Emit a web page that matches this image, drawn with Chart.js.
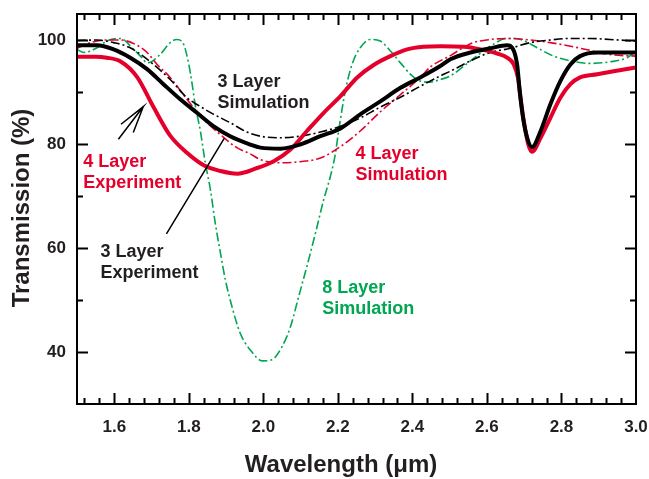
<!DOCTYPE html>
<html>
<head>
<meta charset="utf-8">
<script src="https://cdn.jsdelivr.net/npm/chart.js@4"></script>
<style>
html, body { margin: 0; padding: 0; background: #fff; }
</style>
</head>
<body>
<canvas id="myChart" width="649" height="479"></canvas>
<script>
// wavelength (um) and transmission (%)
var exp3Wl = [1.50, 1.554, 1.598, 1.643, 1.688, 1.732, 1.777, 1.822, 1.867, 1.911, 1.965, 1.992, 2.046, 2.099, 2.153, 2.207, 2.26, 2.314, 2.368, 2.421, 2.475, 2.502, 2.556, 2.609, 2.654, 2.668, 2.681, 2.688, 2.697, 2.708, 2.721, 2.744, 2.77, 2.797, 2.824, 2.85, 2.896, 3.0];
var exp3T  = [99.0, 99.0, 98.2, 96.6, 94.4, 91.5, 88.6, 86.0, 83.4, 81.5, 79.9, 79.3, 79.1, 79.9, 81.5, 83.0, 85.7, 88.2, 90.8, 92.8, 95.0, 96.3, 97.6, 98.4, 99.0, 98.5, 95.3, 90.2, 85.0, 81.2, 79.4, 82.5, 87.6, 92.1, 95.3, 96.9, 97.6, 97.6];

var exp4Wl = [1.50, 1.55, 1.58, 1.616, 1.661, 1.706, 1.75, 1.795, 1.84, 1.885, 1.93, 1.98, 2.028, 2.072, 2.117, 2.162, 2.207, 2.252, 2.296, 2.341, 2.386, 2.43, 2.475, 2.538, 2.583, 2.627, 2.654, 2.672, 2.683, 2.69, 2.699, 2.711, 2.721, 2.744, 2.77, 2.797, 2.824, 2.85, 2.896, 2.94, 3.0];
var exp4T  = [96.8, 96.8, 96.6, 95.9, 92.9, 87.0, 81.6, 78.3, 75.9, 74.8, 74.3, 75.3, 76.7, 78.9, 82.5, 86.0, 89.2, 92.8, 95.2, 96.9, 98.2, 98.7, 98.8, 98.7, 98.2, 97.4, 96.6, 95.3, 92.8, 88.9, 84.4, 79.9, 78.5, 81.2, 85.0, 88.9, 91.5, 92.8, 93.4, 94.0, 94.7];

var sim3Wl = [1.50, 1.554, 1.598, 1.64, 1.688, 1.75, 1.795, 1.822, 1.867, 1.911, 1.956, 1.992, 2.046, 2.099, 2.153, 2.207, 2.26, 2.314, 2.368, 2.421, 2.475, 2.502, 2.556, 2.609, 2.663, 2.716, 2.77, 2.824, 2.877, 2.93, 3.0];
var sim3T  = [99.9, 100.0, 99.5, 98.6, 96.3, 92.4, 88.9, 87.6, 85.7, 84.1, 82.3, 81.5, 81.2, 81.5, 82.3, 83.4, 85.0, 87.1, 89.0, 91.1, 93.1, 94.0, 96.0, 97.6, 98.4, 99.5, 100.0, 100.3, 100.3, 100.1, 99.8];

var sim4Wl = [1.50, 1.536, 1.58, 1.616, 1.661, 1.688, 1.715, 1.75, 1.795, 1.84, 1.885, 1.929, 1.965, 1.992, 2.046, 2.099, 2.153, 2.207, 2.26, 2.314, 2.368, 2.421, 2.448, 2.502, 2.556, 2.609, 2.663, 2.716, 2.77, 2.824, 2.877, 2.93, 3.0];
var sim4T  = [98.4, 99.5, 100.0, 100.0, 99.0, 97.6, 95.3, 92.8, 88.6, 84.7, 81.8, 79.3, 78.1, 77.0, 76.4, 76.6, 77.3, 79.5, 82.5, 86.2, 89.5, 92.8, 94.8, 97.0, 99.3, 100.1, 100.3, 100.0, 99.5, 98.8, 98.0, 97.2, 96.9];

var sim8Wl = [1.50, 1.518, 1.554, 1.58, 1.616, 1.652, 1.674, 1.688, 1.723, 1.75, 1.768, 1.786, 1.80, 1.809, 1.817, 1.831, 1.844, 1.858, 1.871, 1.885, 1.898, 1.916, 1.938, 1.965, 1.997, 2.023, 2.05, 2.073, 2.095, 2.117, 2.14, 2.162, 2.18, 2.193, 2.202, 2.22, 2.238, 2.26, 2.287, 2.314, 2.341, 2.368, 2.395, 2.421, 2.448, 2.475, 2.502, 2.556, 2.609, 2.654, 2.69, 2.735, 2.779, 2.824, 2.877, 2.93, 2.976, 3.0];
var sim8T  = [98.2, 97.6, 98.5, 99.8, 100.3, 98.2, 96.6, 95.6, 97.2, 99.5, 100.1, 99.2, 95.3, 91.5, 87.6, 82.5, 76.5, 71.2, 64.8, 59.0, 53.9, 48.7, 43.6, 40.4, 38.3, 38.5, 41.0, 44.9, 50.7, 56.5, 62.9, 69.3, 73.8, 78.0, 82.5, 90.2, 95.3, 98.5, 100.1, 99.8, 97.9, 95.6, 93.4, 92.1, 91.9, 92.4, 93.1, 96.0, 98.8, 100.3, 100.1, 98.5, 96.9, 96.0, 95.5, 95.8, 96.6, 97.9];

var xTicks = [1.6, 1.8, 2.0, 2.2, 2.4, 2.6, 2.8, 3.0];
var yTicks = [40, 60, 80, 100];
var yMinor = [50, 70, 90];

var dark = '#231f20';
var red = '#e4002b';
var green = '#00a651';
var fam = '"Liberation Sans", Arial, Helvetica, sans-serif';

function pts(xs, ys) {
    return xs.map(function (v, i) { return { x: v, y: ys[i] }; });
}

// label text anchored in data units (left edge, baseline of first line)
var notes = [
    { lines: ['3 Layer', 'Simulation'], wl: 1.877, t: 91.0, color: dark },
    { lines: ['4 Layer', 'Simulation'], wl: 2.247, t: 77.2, color: red },
    { lines: ['4 Layer', 'Experiment'], wl: 1.517, t: 75.5, color: red },
    { lines: ['3 Layer', 'Experiment'], wl: 1.563, t: 58.3, color: dark },
    { lines: ['8 Layer', 'Simulation'], wl: 2.158, t: 51.4, color: green }
];

var frame = {
    id: 'frame',
    afterDatasetsDraw: function (chart) {
        var ctx = chart.ctx, a = chart.chartArea;
        var x = chart.scales.x, y = chart.scales.y;
        ctx.save();
        ctx.strokeStyle = '#000';
        ctx.lineWidth = 2;
        ctx.strokeRect(a.left, a.top, a.right - a.left, a.bottom - a.top);
        ctx.beginPath();
        for (var v = 1.52; v < 2.99; v += 0.04) {
            var px = Math.round(x.getPixelForValue(v)) + 0.5;
            var major = xTicks.some(function (t) { return Math.abs(t - v) < 0.001; });
            var len = major ? 11 : 6;
            ctx.moveTo(px, a.bottom); ctx.lineTo(px, a.bottom - len);
            ctx.moveTo(px, a.top); ctx.lineTo(px, a.top + len);
        }
        yTicks.concat(yMinor).forEach(function (v) {
            var py = Math.round(y.getPixelForValue(v)) + 0.5;
            var len = yTicks.indexOf(v) >= 0 ? 11 : 6;
            ctx.moveTo(a.left, py); ctx.lineTo(a.left + len, py);
            ctx.moveTo(a.right, py); ctx.lineTo(a.right - len, py);
        });
        ctx.stroke();

        // leader line to the 3 layer experiment curve
        ctx.lineWidth = 1.5;
        ctx.beginPath();
        ctx.moveTo(x.getPixelForValue(1.740), y.getPixelForValue(62.7));
        ctx.lineTo(x.getPixelForValue(1.895), y.getPixelForValue(81.1));
        // open arrow
        ctx.moveTo(x.getPixelForValue(1.611), y.getPixelForValue(80.9));
        ctx.lineTo(x.getPixelForValue(1.678), y.getPixelForValue(87.2));
        ctx.lineTo(x.getPixelForValue(1.618), y.getPixelForValue(83.8));
        ctx.moveTo(x.getPixelForValue(1.678), y.getPixelForValue(87.2));
        ctx.lineTo(x.getPixelForValue(1.651), y.getPixelForValue(82.2));
        ctx.stroke();

        ctx.font = 'bold 18px ' + fam;
        ctx.textAlign = 'left';
        ctx.textBaseline = 'alphabetic';
        notes.forEach(function (n) {
            ctx.fillStyle = n.color;
            var px = x.getPixelForValue(n.wl), py = y.getPixelForValue(n.t);
            n.lines.forEach(function (s, i) { ctx.fillText(s, px, py + i * 21); });
        });

        // axis titles
        ctx.fillStyle = dark;
        ctx.font = 'bold 24px ' + fam;
        ctx.textAlign = 'center';
        ctx.textBaseline = 'middle';
        ctx.fillText('Wavelength (\u03bcm)', a.left + 264, 465);
        ctx.translate(22, a.top + 194);
        ctx.rotate(-Math.PI / 2);
        ctx.fillText('Transmission (%)', 0, 0);
        ctx.restore();
    }
};

var tickFont = { family: fam, size: 17, weight: 'bold' };

function noPad(s) {
    s.paddingLeft = 0; s.paddingRight = 0; s.paddingTop = 0; s.paddingBottom = 0;
}

var chart1 = document.getElementById('myChart');
var myChart = new Chart(chart1, {
    type: 'line',
    data: {
        datasets: [{
            label: '3 Layer Experiment',
            data: pts(exp3Wl, exp3T),
            borderColor: '#000',
            borderWidth: 4
        }, {
            label: '4 Layer Experiment',
            data: pts(exp4Wl, exp4T),
            borderColor: red,
            borderWidth: 4
        }, {
            label: '3 Layer Simulation',
            data: pts(sim3Wl, sim3T),
            borderColor: '#000',
            borderWidth: 1.6,
            borderDash: [9, 3, 2, 3]
        }, {
            label: '4 Layer Simulation',
            data: pts(sim4Wl, sim4T),
            borderColor: red,
            borderWidth: 1.6,
            borderDash: [9, 3, 2, 3]
        }, {
            label: '8 Layer Simulation',
            data: pts(sim8Wl, sim8T),
            borderColor: green,
            borderWidth: 1.6,
            borderDash: [9, 3, 2, 3]
        }]
    },
    options: {
        responsive: false,
        animation: false,
        events: [],
        elements: {
            point: { radius: 0 },
            line: { cubicInterpolationMode: 'monotone', fill: false }
        },
        layout: { padding: { left: 0, right: 13, top: 14, bottom: 0 } },
        plugins: { legend: { display: false }, tooltip: { enabled: false } },
        scales: {
            x: {
                type: 'linear',
                min: 1.5,
                max: 3.0,
                afterBuildTicks: function (s) { s.ticks = xTicks.map(function (v) { return { value: v }; }); },
                afterFit: function (s) { s.height = 75; noPad(s); },
                grid: { display: false, drawTicks: false },
                border: { display: false },
                ticks: {
                    color: dark, font: tickFont, padding: 13, maxRotation: 0, autoSkip: false,
                    callback: function (v) { return Number(v).toFixed(1); }
                }
            },
            y: {
                min: 30,
                max: 105,
                afterBuildTicks: function (s) { s.ticks = yTicks.map(function (v) { return { value: v }; }); },
                afterFit: function (s) { s.width = 77; noPad(s); },
                grid: { display: false, drawTicks: false },
                border: { display: false },
                ticks: { color: dark, font: tickFont, padding: 11, autoSkip: false }
            }
        }
    },
    plugins: [frame]
});
</script>
</body>
</html>
